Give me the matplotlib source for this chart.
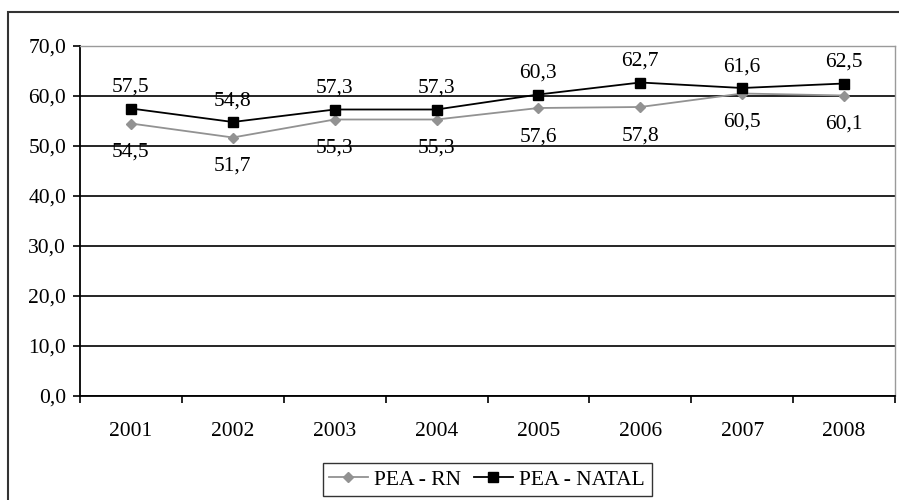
import matplotlib
matplotlib.use("Agg")
import matplotlib.pyplot as plt
from matplotlib.ticker import FuncFormatter, FixedLocator
from matplotlib.patches import Rectangle

years = ["2001", "2002", "2003", "2004", "2005", "2006", "2007", "2008"]
pea_rn = [54.5, 51.7, 55.3, 55.3, 57.6, 57.8, 60.5, 60.1]
pea_natal = [57.5, 54.8, 57.3, 57.3, 60.3, 62.7, 61.6, 62.5]
series_names = ["PEA - RN", "PEA - NATAL"]

plt.rcParams['font.family'] = ['Liberation Serif', 'DejaVu Serif']
FS = 15.5

fig = plt.figure(figsize=(8.99, 5.0), dpi=100)
W, H = 899, 500
ax = fig.add_axes([80 / W, 1 - 396 / H, (895 - 80) / W, (396 - 46) / H])

x = list(range(len(years)))
ax.plot(x, pea_rn, color='#929292', marker='D', markersize=5.5, lw=1.3,
        label=series_names[0], zorder=3)
ax.plot(x, pea_natal, color='black', marker='s', markersize=7, lw=1.3,
        label=series_names[1], zorder=4)

fmt = lambda v: f"{v:.1f}".replace('.', ',')
for xi, v in zip(x, pea_natal):
    ax.annotate(fmt(v), (xi, v), xytext=(0, 12), textcoords='offset points',
                ha='center', va='baseline', fontsize=FS, zorder=5)
for xi, v in zip(x, pea_rn):
    ax.annotate(fmt(v), (xi, v), xytext=(0, -24), textcoords='offset points',
                ha='center', va='baseline', fontsize=FS, zorder=5)

ax.set_xlim(-0.5, len(years) - 0.5)
ax.set_ylim(0, 70)
ax.set_yticks(range(0, 71, 10))
ax.yaxis.set_major_formatter(FuncFormatter(lambda v, p: fmt(v)))
ax.grid(axis='y', color='black', lw=1.2, zorder=1)
ax.set_axisbelow(True)

ax.set_xticks(x)
ax.set_xticklabels(years)
ax.xaxis.set_minor_locator(FixedLocator([i - 0.5 for i in range(len(years) + 1)]))
ax.tick_params(axis='x', which='major', length=0, pad=19, labelsize=FS)
ax.tick_params(axis='x', which='minor', length=5, width=1.2, direction='out', color='black')
ax.tick_params(axis='y', which='major', length=5, width=1.2, direction='out', pad=5,
               labelsize=FS, color='black')

for s in ['top', 'right']:
    ax.spines[s].set_color('#9a9a9a')
    ax.spines[s].set_linewidth(1.0)
for s in ['left', 'bottom']:
    ax.spines[s].set_color('black')
    ax.spines[s].set_linewidth(1.3)

leg = fig.legend(loc='upper center', bbox_to_anchor=(487 / W, 1 - 463 / H),
                 bbox_transform=fig.transFigure, ncol=2, fontsize=FS,
                 frameon=True, fancybox=False, edgecolor='black',
                 handlelength=1.8, handletextpad=0.3, columnspacing=0.6,
                 borderpad=0.3, borderaxespad=0)
leg.get_frame().set_linewidth(1.0)

fig.patches.append(Rectangle((8 / W, -0.2), 2, 1.2 - 12 / H, transform=fig.transFigure,
                             fill=False, ec='#333333', lw=1.5))

fig.savefig("out.png", dpi=100)
